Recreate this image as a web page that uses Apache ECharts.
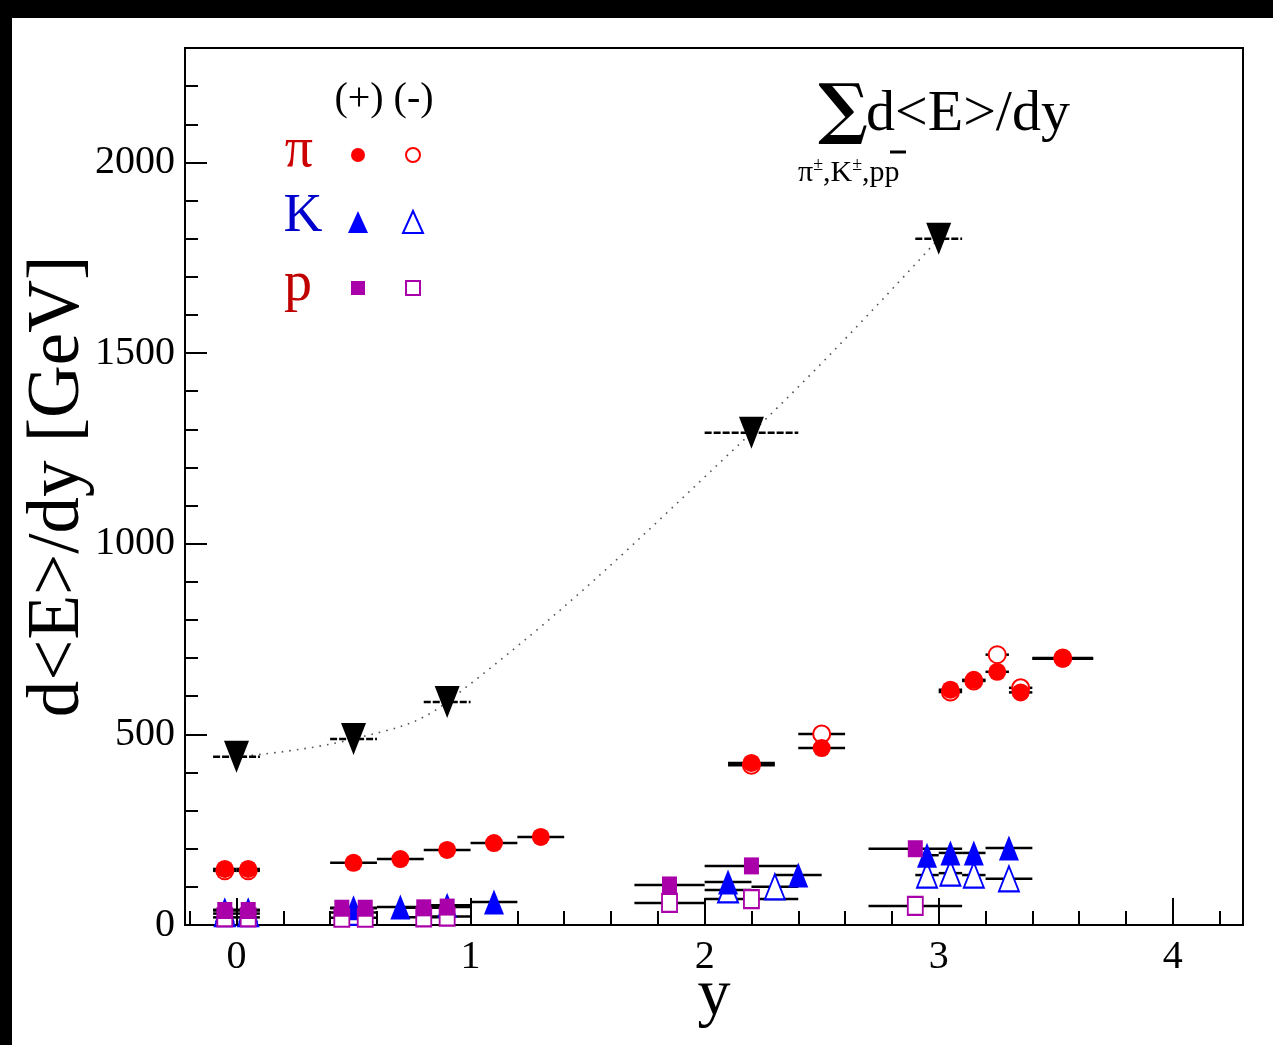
<!DOCTYPE html>
<html><head><meta charset="utf-8">
<script src="https://cdn.jsdelivr.net/npm/echarts@6/dist/echarts.min.js"></script>
<style>html,body{margin:0;padding:0;background:#fff}#c{width:1273px;height:1045px}</style>
</head><body><div id="c"></div>
<script>
// ---- tick labels / positions ----
const xTickLabels = ['0', '1', '2', '3', '4'];
const xMajorTicks = [0, 1, 2, 3, 4];
const xMinorTicks = [-0.2, 0.2, 0.4, 0.6, 0.8, 1.2, 1.4, 1.6, 1.8, 2.2, 2.4, 2.6, 2.8, 3.2, 3.4, 3.6, 3.8, 4.2];
const yTickLabels = ['0', '500', '1000', '1500', '2000'];

// ---- sum over pi, K, p ----
const sumX = [0, 0.5, 0.9, 2.2, 3.0];
const sumY = [441, 488, 585, 1291, 1800];
const sumXErr = [0.1, 0.1, 0.1, 0.2, 0.1];

// ---- pi+ (filled circles) ----
const piPlusX = [-0.05, 0.05, 0.5, 0.7, 0.9, 1.1, 1.3, 2.2, 2.5, 3.05, 3.15, 3.25, 3.35, 3.53];
const piPlusY = [147, 147, 163, 173, 197, 215, 231, 425, 464, 617, 643, 664, 610, 698];
const piPlusXErr = [0.05, 0.05, 0.1, 0.1, 0.1, 0.1, 0.1, 0.1, 0.1, 0.05, 0.05, 0.05, 0.05, 0.13];

// ---- pi- (open circles) ----
const piMinusX = [-0.05, 0.05, 2.2, 2.5, 3.05, 3.15, 3.25, 3.35, 3.53];
const piMinusY = [142, 142, 419, 501, 611, 640, 709, 622, 700];
const piMinusXErr = [0.05, 0.05, 0.1, 0.1, 0.05, 0.05, 0.05, 0.05, 0.13];

// ---- K+ (filled triangles) ----
const kPlusX = [-0.05, 0.05, 0.5, 0.7, 0.9, 1.1, 2.1, 2.4, 2.95, 3.05, 3.15, 3.3];
const kPlusY = [40, 40, 45, 47, 52, 60, 113, 131, 183, 189, 189, 202];
const kPlusXErr = [0.05, 0.05, 0.1, 0.1, 0.1, 0.1, 0.1, 0.1, 0.05, 0.05, 0.05, 0.1];

// ---- K- (open triangles) ----
const kMinusX = [-0.05, 0.05, 0.5, 2.1, 2.3, 2.95, 3.05, 3.15, 3.3];
const kMinusY = [30, 30, 33, 92, 100, 131, 136, 131, 121];
const kMinusXErr = [0.05, 0.05, 0.1, 0.1, 0.1, 0.05, 0.05, 0.05, 0.1];

// ---- p (filled squares) ----
const pX = [-0.05, 0.05, 0.45, 0.55, 0.8, 0.9, 1.85, 2.2, 2.9];
const pY = [38, 38, 44, 44, 45, 47, 105, 155, 200];
const pXErr = [0.05, 0.05, 0.05, 0.05, 0.1, 0.1, 0.15, 0.2, 0.2];

// ---- pbar (open squares) ----
const pbarX = [-0.05, 0.05, 0.45, 0.55, 0.8, 0.9, 1.85, 2.2, 2.9];
const pbarY = [20, 20, 19, 19, 20, 22, 58, 68, 50];
const pbarXErr = [0.05, 0.05, 0.05, 0.05, 0.1, 0.1, 0.15, 0.2, 0.2];

const FONT = 'Liberation Serif';
const RED = '#ff0000', BLUE = '#0000ff', PURPLE = '#aa00aa';
const X_MIN = -0.22, X_MAX = 4.3;

function zip(xs, ys, es) { return xs.map((x, i) => es ? [x, ys[i], es[i]] : [x, ys[i]]); }

function errBar(dash, width) {
  return function (params, api) {
    const x = api.value(0), y = api.value(1), e = api.value(2);
    const a = api.coord([x - e, y]), b = api.coord([x + e, y]);
    return { type: 'line', shape: { x1: a[0], y1: a[1], x2: b[0], y2: b[1] },
      style: { stroke: '#000', lineWidth: width, lineDash: dash } };
  };
}
function errSeries(xs, ys, es, dash, width) {
  return { type: 'custom', renderItem: errBar(dash, width), data: zip(xs, ys, es),
    encode: { x: 0, y: 1 }, z: 2, silent: true };
}
function scatter(xs, ys, symbol, size, color, empty, extra) {
  return Object.assign({ type: 'scatter', data: zip(xs, ys), symbol: symbol, symbolSize: size, z: 3,
    itemStyle: empty ? { color: '#fff', borderColor: color, borderWidth: 2, opacity: 1 } : { color: color, opacity: 1 } }, extra || {});
}

const chart = echarts.init(document.getElementById('c'), null, { renderer: 'canvas' });

const legendX1 = 358, legendX2 = 413;
chart.setOption({
  animation: false,
  backgroundColor: '#fff',
  grid: { left: 185, right: 30, top: 48, bottom: 120, outerBoundsMode: 'none', containLabel: false,
    show: true, borderColor: '#000', borderWidth: 2, backgroundColor: 'transparent' },
  xAxis: [{
    type: 'value', min: X_MIN, max: X_MAX,
    name: 'y', nameLocation: 'middle', nameGap: 39, nameMoveOverlap: false,
    nameTextStyle: { fontFamily: FONT, fontSize: 66, color: '#000', verticalAlign: 'top' },
    axisLine: { show: true, onZero: false, lineStyle: { color: '#000', width: 2 } },
    axisTick: { show: true, inside: true, length: 27, customValues: xMajorTicks, lineStyle: { color: '#000', width: 2 } },
    splitLine: { show: false },
    axisLabel: { fontFamily: FONT, fontSize: 40, color: '#000', margin: 12, customValues: xMajorTicks,
      formatter: v => xTickLabels[xMajorTicks.indexOf(Math.round(v))] || '' }
  }, {
    type: 'value', min: X_MIN, max: X_MAX, position: 'bottom',
    axisLine: { show: false },
    axisTick: { show: true, inside: true, length: 14, customValues: xMinorTicks, lineStyle: { color: '#000', width: 2 } },
    splitLine: { show: false },
    axisLabel: { show: false }
  }],
  yAxis: {
    type: 'value', min: 0, max: 2300, interval: 500,
    name: 'd<E>/dy [GeV]', nameLocation: 'middle', nameGap: 90, nameRotate: 90, nameMoveOverlap: false,
    nameTextStyle: { fontFamily: FONT, fontSize: 73, color: '#000' },
    axisLine: { show: true, onZero: false, lineStyle: { color: '#000', width: 2 } },
    axisTick: { show: true, inside: true, length: 22, lineStyle: { color: '#000', width: 2 } },
    minorTick: { show: true, splitNumber: 5, length: 13, lineStyle: { color: '#000', width: 2 } },
    splitLine: { show: false },
    axisLabel: { fontFamily: FONT, fontSize: 40, color: '#000', margin: 10, showMaxLabel: false,
      formatter: v => (v % 500 === 0 && v <= 2000) ? yTickLabels[v / 500] : '' }
  },
  series: [
    { type: 'line', data: zip(sumX, sumY), smooth: 0.4, symbol: 'none', z: 1, silent: true,
      lineStyle: { color: '#555', width: 1.6, type: [1.6, 6] } },
    errSeries(sumX, sumY, sumXErr, [7, 2], 2.5),
    errSeries(piPlusX, piPlusY, piPlusXErr, null, 2.5),
    errSeries(piMinusX, piMinusY, piMinusXErr, null, 2.5),
    errSeries(kPlusX, kPlusY, kPlusXErr, null, 2.5),
    errSeries(kMinusX, kMinusY, kMinusXErr, null, 2.5),
    errSeries(pX, pY, pXErr, null, 2.5),
    errSeries(pbarX, pbarY, pbarXErr, null, 2.5),
    scatter(sumX, sumY, 'triangle', [25, 32], '#000', false, { symbolRotate: 180 }),
    scatter(piMinusX, piMinusY, 'circle', 17, RED, true),
    scatter(piPlusX, piPlusY, 'circle', 18, RED, false),
    scatter(kMinusX, kMinusY, 'triangle', [20, 25], BLUE, true),
    scatter(kPlusX, kPlusY, 'triangle', [20, 25], BLUE, false),
    scatter(pbarX, pbarY, 'rect', [15, 18], PURPLE, true),
    scatter(pX, pY, 'rect', [15, 17], PURPLE, false)
  ],
  graphic: [
    { type: 'rect', shape: { x: 0, y: 0, width: 1273, height: 18 }, style: { fill: '#000' }, z: 100 },
    { type: 'rect', shape: { x: 0, y: 0, width: 12, height: 1045 }, style: { fill: '#000' }, z: 100 },
    // legend header
    { type: 'text', x: 384, y: 99, style: { text: '(+) (-)', fontFamily: FONT, fontSize: 40, fill: '#000', align: 'center', verticalAlign: 'middle' }, z: 50 },
    { type: 'text', x: 299, y: 151, style: { text: 'π', fontFamily: FONT, fontSize: 56, fill: '#cc0000', align: 'center', verticalAlign: 'middle' }, z: 50 },
    { type: 'text', x: 303, y: 217, style: { text: 'K', fontFamily: FONT, fontSize: 54, fill: '#0000cc', align: 'center', verticalAlign: 'middle' }, z: 50 },
    { type: 'text', x: 298, y: 285, style: { text: 'p', fontFamily: FONT, fontSize: 56, fill: '#c00000', align: 'center', verticalAlign: 'middle' }, z: 50 },
    { type: 'circle', shape: { cx: legendX1, cy: 155, r: 7 }, style: { fill: RED }, z: 50 },
    { type: 'circle', shape: { cx: legendX2, cy: 155, r: 7 }, style: { fill: '#fff', stroke: RED, lineWidth: 2 }, z: 50 },
    { type: 'polygon', shape: { points: [[legendX1, 211], [legendX1 + 10, 233], [legendX1 - 10, 233]] }, style: { fill: BLUE }, z: 50 },
    { type: 'polygon', shape: { points: [[legendX2, 211], [legendX2 + 10, 233], [legendX2 - 10, 233]] }, style: { fill: '#fff', stroke: BLUE, lineWidth: 2 }, z: 50 },
    { type: 'rect', shape: { x: legendX1 - 7, y: 281, width: 14, height: 14 }, style: { fill: PURPLE }, z: 50 },
    { type: 'rect', shape: { x: legendX2 - 7, y: 281, width: 14, height: 14 }, style: { fill: '#fff', stroke: PURPLE, lineWidth: 2 }, z: 50 },
    // sum label
    { type: 'text', x: 843, y: 114, style: { text: '∑', fontFamily: 'DejaVu Serif', fontSize: 66, fontWeight: 'bold', fill: '#000', align: 'center', verticalAlign: 'middle' }, z: 50 },
    { type: 'text', x: 866, y: 115, style: { text: 'd<E>/dy', fontFamily: FONT, fontSize: 58, fill: '#000', align: 'left', verticalAlign: 'middle' }, z: 50 },
    { type: 'text', x: 798, y: 172, style: {
        text: '{a|π}{s|±}{a|,K}{s|±}{a|,pp}', fontFamily: FONT, align: 'left', verticalAlign: 'middle',
        rich: { a: { fontFamily: FONT, fontSize: 30, fill: '#000', verticalAlign: 'bottom', lineHeight: 32 },
                s: { fontFamily: FONT, fontSize: 18, fill: '#000', verticalAlign: 'top', lineHeight: 32 } } }, z: 50 },
    { type: 'line', shape: { x1: 890, y1: 152, x2: 906, y2: 152 }, style: { stroke: '#000', lineWidth: 3 }, z: 50 }
  ]
});
</script></body></html>
